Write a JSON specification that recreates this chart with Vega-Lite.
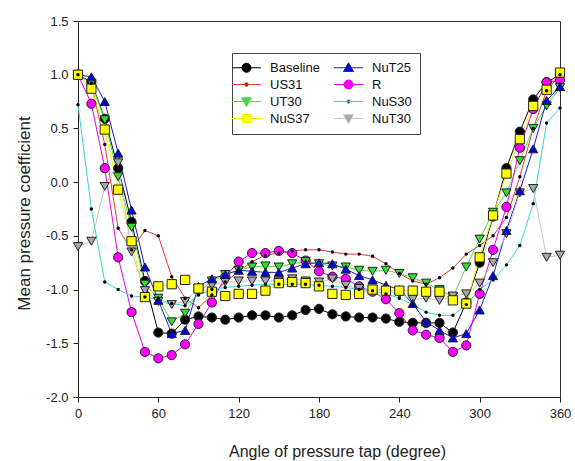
{
  "$schema": "https://vega.github.io/schema/vega-lite/v6.json",
  "width": 482,
  "height": 376,
  "autosize": {"type": "none"},
  "padding": {"left": 78, "top": 21, "right": 15, "bottom": 64},
  "background": "white",
  "config": {
    "font": "Liberation Sans",
    "view": {"stroke": "#333", "strokeWidth": 1},
    "axis": {"grid": false, "domainColor": "#222", "tickColor": "#222", "tickSize": 5, "labelFont": "Liberation Sans", "labelFontSize": 13, "labelColor": "#222", "titleFont": "Liberation Sans", "titleColor": "#222", "titleFontWeight": "normal"},
    "legend": {"orient": "none", "legendX": 154, "legendY": 32, "columns": 2, "title": null, "symbolSize": 100, "symbolStrokeWidth": 1, "symbolOpacity": 1, "labelFont": "Liberation Sans", "labelFontSize": 13, "labelColor": "#111", "labelOffset": 17, "columnPadding": 12, "rowPadding": 3, "padding": 8, "strokeColor": "#444", "fillColor": "white"}
  },
  "data": {"values": [
    {"a":0,"Baseline":1.0,"US31":1.0,"UT30":1.0,"NuS37":1.0,"NuT25":1.0,"R":1.0,"NuS30":0.72,"NuT30":-0.60},
    {"a":10,"Baseline":0.93,"US31":0.92,"UT30":0.92,"NuS37":0.87,"NuT25":0.98,"R":0.73,"NuS30":-0.25,"NuT30":-0.55},
    {"a":20,"Baseline":0.59,"US31":0.35,"UT30":0.58,"NuS37":0.49,"NuT25":0.75,"R":0.13,"NuS30":-0.93,"NuT30":-0.04},
    {"a":30,"Baseline":0.13,"US31":-0.43,"UT30":0.05,"NuS37":-0.07,"NuT25":0.27,"R":-0.70,"NuS30":-1.00,"NuT30":0.18},
    {"a":40,"Baseline":-0.37,"US31":-0.63,"UT30":-0.42,"NuS37":-0.55,"NuT25":-0.26,"R":-1.21,"NuS30":-1.06,"NuT30":-0.65},
    {"a":50,"Baseline":-0.92,"US31":-0.45,"UT30":-0.95,"NuS37":-1.07,"NuT25":-0.79,"R":-1.58,"NuS30":-1.07,"NuT30":-1.01},
    {"a":60,"Baseline":-1.40,"US31":-0.50,"UT30":-1.08,"NuS37":-0.97,"NuT25":-1.10,"R":-1.64,"NuS30":-1.09,"NuT30":-1.11},
    {"a":70,"Baseline":-1.41,"US31":-0.88,"UT30":-1.30,"NuS37":-0.95,"NuT25":-1.41,"R":-1.61,"NuS30":-1.13,"NuT30":-1.14},
    {"a":80,"Baseline":-1.28,"US31":-1.08,"UT30":-1.22,"NuS37":-0.91,"NuT25":-1.38,"R":-1.51,"NuS30":-1.15,"NuT30":-1.11},
    {"a":90,"Baseline":-1.25,"US31":-1.17,"UT30":-1.02,"NuS37":-0.99,"NuT25":-0.97,"R":-1.32,"NuS30":-1.05,"NuT30":-0.99},
    {"a":100,"Baseline":-1.26,"US31":-1.05,"UT30":-0.92,"NuS37":-1.02,"NuT25":-0.90,"R":-1.12,"NuS30":-1.00,"NuT30":-0.96},
    {"a":110,"Baseline":-1.28,"US31":-0.93,"UT30":-0.86,"NuS37":-1.06,"NuT25":-0.86,"R":-0.88,"NuS30":-0.98,"NuT30":-0.93},
    {"a":120,"Baseline":-1.26,"US31":-0.83,"UT30":-0.82,"NuS37":-1.04,"NuT25":-0.82,"R":-0.74,"NuS30":-0.97,"NuT30":-0.92},
    {"a":130,"Baseline":-1.24,"US31":-0.74,"UT30":-0.79,"NuS37":-1.04,"NuT25":-0.83,"R":-0.66,"NuS30":-0.96,"NuT30":-0.92},
    {"a":140,"Baseline":-1.24,"US31":-0.68,"UT30":-0.78,"NuS37":-1.01,"NuT25":-0.84,"R":-0.66,"NuS30":-0.95,"NuT30":-0.92},
    {"a":150,"Baseline":-1.26,"US31":-0.66,"UT30":-0.79,"NuS37":-0.94,"NuT25":-0.84,"R":-0.64,"NuS30":-0.95,"NuT30":-0.92},
    {"a":160,"Baseline":-1.24,"US31":-0.64,"UT30":-0.76,"NuS37":-0.93,"NuT25":-0.80,"R":-0.66,"NuS30":-0.95,"NuT30":-0.90},
    {"a":170,"Baseline":-1.19,"US31":-0.63,"UT30":-0.74,"NuS37":-0.94,"NuT25":-0.76,"R":-0.73,"NuS30":-0.95,"NuT30":-0.92},
    {"a":180,"Baseline":-1.18,"US31":-0.63,"UT30":-0.76,"NuS37":-0.97,"NuT25":-0.75,"R":-0.83,"NuS30":-0.96,"NuT30":-0.93},
    {"a":190,"Baseline":-1.23,"US31":-0.65,"UT30":-0.78,"NuS37":-1.04,"NuT25":-0.76,"R":-0.88,"NuS30":-0.97,"NuT30":-0.90},
    {"a":200,"Baseline":-1.25,"US31":-0.67,"UT30":-0.79,"NuS37":-1.05,"NuT25":-0.81,"R":-0.90,"NuS30":-0.98,"NuT30":-0.96},
    {"a":210,"Baseline":-1.26,"US31":-0.67,"UT30":-0.82,"NuS37":-1.04,"NuT25":-0.87,"R":-0.97,"NuS30":-1.00,"NuT30":-0.99},
    {"a":220,"Baseline":-1.26,"US31":-0.69,"UT30":-0.83,"NuS37":-1.00,"NuT25":-0.91,"R":-1.02,"NuS30":-1.01,"NuT30":-1.00},
    {"a":230,"Baseline":-1.27,"US31":-0.76,"UT30":-0.82,"NuS37":-1.01,"NuT25":-0.96,"R":-1.09,"NuS30":-1.04,"NuT30":-1.01},
    {"a":240,"Baseline":-1.30,"US31":-0.85,"UT30":-0.85,"NuS37":-1.01,"NuT25":-1.00,"R":-1.22,"NuS30":-1.08,"NuT30":-1.04},
    {"a":250,"Baseline":-1.31,"US31":-0.92,"UT30":-0.89,"NuS37":-1.01,"NuT25":-1.13,"R":-1.38,"NuS30":-1.14,"NuT30":-1.09},
    {"a":260,"Baseline":-1.31,"US31":-0.95,"UT30":-0.94,"NuS37":-1.02,"NuT25":-1.30,"R":-1.42,"NuS30":-1.21,"NuT30":-1.08},
    {"a":270,"Baseline":-1.31,"US31":-0.89,"UT30":-1.00,"NuS37":-1.02,"NuT25":-1.38,"R":-1.45,"NuS30":-1.24,"NuT30":-1.10},
    {"a":280,"Baseline":-1.40,"US31":-0.80,"UT30":-1.07,"NuS37":-1.10,"NuT25":-1.45,"R":-1.58,"NuS30":-1.24,"NuT30":-1.06},
    {"a":290,"Baseline":-1.12,"US31":-0.67,"UT30":-0.79,"NuS37":-1.13,"NuT25":-1.41,"R":-1.52,"NuS30":-1.14,"NuT30":-1.04},
    {"a":300,"Baseline":-0.75,"US31":-0.59,"UT30":-0.53,"NuS37":-0.70,"NuT25":-1.19,"R":-1.04,"NuS30":-1.00,"NuT30":-0.94},
    {"a":310,"Baseline":-0.32,"US31":-0.50,"UT30":-0.28,"NuS37":-0.31,"NuT25":-0.87,"R":-0.63,"NuS30":-0.91,"NuT30":-0.75},
    {"a":320,"Baseline":0.13,"US31":-0.33,"UT30":-0.10,"NuS37":0.08,"NuT25":-0.45,"R":-0.23,"NuS30":-0.77,"NuT30":-0.48},
    {"a":330,"Baseline":0.47,"US31":0.05,"UT30":0.20,"NuS37":0.40,"NuT25":-0.08,"R":0.32,"NuS30":-0.59,"NuT30":-0.10},
    {"a":340,"Baseline":0.77,"US31":0.50,"UT30":0.50,"NuS37":0.71,"NuT25":0.31,"R":0.68,"NuS30":-0.20,"NuT30":-0.06},
    {"a":350,"Baseline":0.93,"US31":0.85,"UT30":0.71,"NuS37":0.86,"NuT25":0.76,"R":0.93,"NuS30":0.55,"NuT30":-0.70},
    {"a":360,"Baseline":1.00,"US31":1.00,"UT30":0.88,"NuS37":1.02,"NuT25":0.89,"R":0.95,"NuS30":0.69,"NuT30":-0.68}
  ]},
  "transform": [
    {"fold": ["Baseline","US31","UT30","NuS37","NuT25","R","NuS30","NuT30"], "as": ["series","cp"]}
  ],
  "encoding": {
    "x": {"field": "a", "type": "quantitative",
      "scale": {"domain": [0, 360], "nice": false, "zero": false},
      "axis": {"values": [0,60,120,180,240,300,360], "title": "Angle of pressure tap (degree)", "titleFontSize": 16, "labelPadding": 5, "titleX": 259, "titleY": 59, "titleBaseline": "alphabetic", "titleAlign": "center", "labelFlush": false}},
    "y": {"field": "cp", "type": "quantitative",
      "scale": {"domain": [-2, 1.5], "nice": false, "zero": false},
      "axis": {"values": [-2,-1.5,-1,-0.5,0,0.5,1,1.5], "title": "Mean pressure coefficient", "titleFontSize": 17, "labelPadding": 5, "labelExpr": "datum.value < 0 ? '-' + format(-datum.value, '.1f') : format(datum.value, '.1f')", "titleX": -49, "titleY": 192, "titleAngle": -90, "titleBaseline": "alphabetic", "titleAlign": "center", "labelFlush": false}},
    "fill": {"field": "series", "type": "nominal",
      "scale": {"domain": ["Baseline","US31","UT30","NuS37","NuT25","R","NuS30","NuT30"],
                "range": ["#000000","#000000","#33dd33","#ffff00","#0000e6","#ff00ff","#000000","#a8a8a8"]}}
  },
  "layer": [
    {
      "mark": {"type": "line", "strokeWidth": 1, "fill": null},
      "encoding": {
        "fill": null,
        "stroke": {"field": "series", "type": "nominal",
          "scale": {"domain": ["Baseline","US31","UT30","NuS37","NuT25","R","NuS30","NuT30"],
                    "range": ["#000000","#e03a3a","#55dd44","#f2f200","#1a1ad0","#e600e6","#33d6d6","#c4c4c4"]}}
      }
    },
    {
      "transform": [{"filter": "datum.a < 0"}],
      "mark": {"type": "point", "filled": true, "opacity": 1},
      "encoding": {
        "stroke": {"field": "series", "type": "nominal"},
        "shape": {"field": "series", "type": "nominal",
          "scale": {"domain": ["Baseline","US31","UT30","NuS37","NuT25","R","NuS30","NuT30"],
                    "range": [
                      "M-2.9,0L-0.9,0M0.9,0L2.9,0M-0.9,0A0.9,0.9,0,1,1,0.9,0A0.9,0.9,0,1,1,-0.9,0Z",
                      "M-2.9,0L2.9,0M-0.35,0A0.35,0.35,0,1,1,0.35,0A0.35,0.35,0,1,1,-0.35,0Z",
                      "M-2.9,0L-0.57,0M0.57,0L2.9,0M0,1L1,-0.75L-1,-0.75Z",
                      "M-2.9,0L-0.8,0M0.8,0L2.9,0M-0.8,-0.8L0.8,-0.8L0.8,0.8L-0.8,0.8Z",
                      "M-2.9,0L-0.57,0M0.57,0L2.9,0M0,-1L1,0.75L-1,0.75Z",
                      "M-2.9,0L-0.9,0M0.9,0L2.9,0M-0.9,0A0.9,0.9,0,1,1,0.9,0A0.9,0.9,0,1,1,-0.9,0Z",
                      "M-2.9,0L2.9,0M-0.35,0A0.35,0.35,0,1,1,0.35,0A0.35,0.35,0,1,1,-0.35,0Z",
                      "M-2.9,0L-0.57,0M0.57,0L2.9,0M0,1L1,-0.75L-1,-0.75Z"
                    ]}}
      }
    },
    {
      "transform": [{"filter": "datum.series === 'Baseline' || datum.series === 'R'"}],
      "mark": {"type": "point", "filled": true, "shape": "circle", "size": 85, "stroke": "#222", "strokeWidth": 1, "opacity": 1}
    },
    {
      "transform": [{"filter": "datum.series === 'UT30' || datum.series === 'NuT30'"}],
      "mark": {"type": "point", "filled": true, "shape": "triangle-down", "size": 85, "stroke": "#222", "strokeWidth": 1, "opacity": 1}
    },
    {
      "transform": [{"filter": "datum.series === 'NuT25'"}],
      "mark": {"type": "point", "filled": true, "shape": "triangle-up", "size": 85, "stroke": "#222", "strokeWidth": 1, "opacity": 1}
    },
    {
      "transform": [{"filter": "datum.series === 'NuS37'"}],
      "mark": {"type": "point", "filled": true, "shape": "square", "size": 85, "stroke": "#222", "strokeWidth": 1, "opacity": 1}
    },
    {
      "transform": [{"filter": "datum.series === 'US31' || datum.series === 'NuS30'"}],
      "mark": {"type": "point", "filled": true, "shape": "circle", "size": 12, "stroke": null, "opacity": 1}
    }
  ]
}
